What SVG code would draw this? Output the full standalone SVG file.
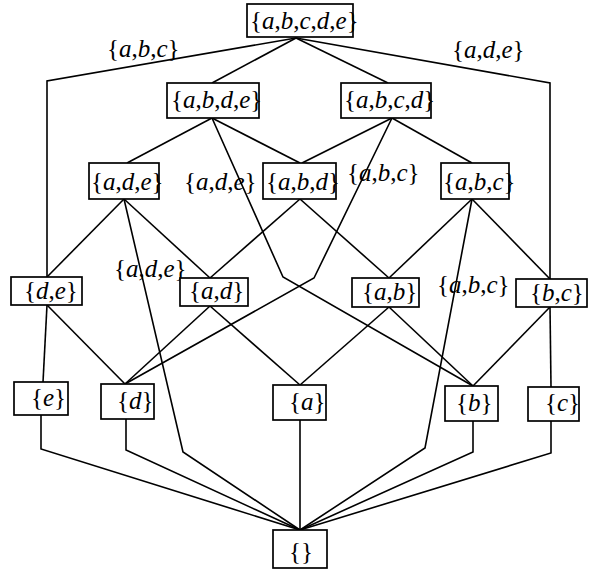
<svg xmlns="http://www.w3.org/2000/svg" width="592" height="570" viewBox="0 0 592 570">
<style>
text{font-family:"Liberation Serif","Times New Roman",serif;font-size:25px;fill:#000}
.i{font-style:italic}
rect{fill:#fff;stroke:#000;stroke-width:1.7}
polyline{fill:none;stroke:#000;stroke-width:1.6;stroke-linejoin:miter}
</style>
<rect x="0" y="0" width="592" height="570" style="stroke:none"/>
<g id="connectors">
<polyline points="296,38 47,81 47,277"/>
<polyline points="296,38 550,83 550,279"/>
<polyline points="296,38 212,83"/>
<polyline points="296,38 388,83"/>
<polyline points="212,118 127,163"/>
<polyline points="212,118 300,163"/>
<polyline points="212,118 283,277 473,386"/>
<polyline points="392,118 302,163"/>
<polyline points="392,118 472,163"/>
<polyline points="392,118 314,278 125,384"/>
<polyline points="124,199 47,277"/>
<polyline points="124,199 210,278"/>
<polyline points="124,199 183,452 300,530"/>
<polyline points="300,199 210,278"/>
<polyline points="300,199 389,278"/>
<polyline points="472,199 389,278"/>
<polyline points="472,199 550,279"/>
<polyline points="472,199 425,448 300,530"/>
<polyline points="47,305 43,382"/>
<polyline points="47,305 125,384"/>
<polyline points="210,306 125,384"/>
<polyline points="210,306 300,385"/>
<polyline points="389,307 300,385"/>
<polyline points="389,307 473,386"/>
<polyline points="550,307 473,386"/>
<polyline points="550,307 551,387"/>
<polyline points="41,415 41,449 300,530"/>
<polyline points="126,419 126,450 300,530"/>
<polyline points="300,420 300,530"/>
<polyline points="473,421 473,452 300,530"/>
<polyline points="551,421 551,453 300,530"/>
</g>
<g id="edge-labels">
<text x="107" y="57">{<tspan class="i">a</tspan>,<tspan class="i">b</tspan>,<tspan class="i">c</tspan>}</text>
<text x="452" y="58">{<tspan class="i">a</tspan>,<tspan class="i">d</tspan>,<tspan class="i">e</tspan>}</text>
<text x="184" y="190">{<tspan class="i">a</tspan>,<tspan class="i">d</tspan>,<tspan class="i">e</tspan>}</text>
<text x="347" y="181">{<tspan class="i">a</tspan>,<tspan class="i">b</tspan>,<tspan class="i">c</tspan>}</text>
<text x="114" y="277">{<tspan class="i">a</tspan>,<tspan class="i">d</tspan>,<tspan class="i">e</tspan>}</text>
<text x="437" y="293">{<tspan class="i">a</tspan>,<tspan class="i">b</tspan>,<tspan class="i">c</tspan>}</text>
</g>
<g id="n-abcde"><rect x="247" y="4" width="106" height="33"/><text x="250" y="29">{<tspan class="i">a</tspan>,<tspan class="i">b</tspan>,<tspan class="i">c</tspan>,<tspan class="i">d</tspan>,<tspan class="i">e</tspan>}</text></g>
<g id="n-abde"><rect x="167" y="83" width="92" height="35"/><text x="171" y="108">{<tspan class="i">a</tspan>,<tspan class="i">b</tspan>,<tspan class="i">d</tspan>,<tspan class="i">e</tspan>}</text></g>
<g id="n-abcd"><rect x="341" y="83" width="90" height="35"/><text x="344" y="108">{<tspan class="i">a</tspan>,<tspan class="i">b</tspan>,<tspan class="i">c</tspan>,<tspan class="i">d</tspan>}</text></g>
<g id="n-ade"><rect x="89" y="163" width="70" height="36"/><text x="91" y="190">{<tspan class="i">a</tspan>,<tspan class="i">d</tspan>,<tspan class="i">e</tspan>}</text></g>
<g id="n-abd"><rect x="263" y="163" width="73" height="36"/><text x="266" y="190">{<tspan class="i">a</tspan>,<tspan class="i">b</tspan>,<tspan class="i">d</tspan>}</text></g>
<g id="n-abc"><rect x="441" y="163" width="68" height="36"/><text x="443" y="190">{<tspan class="i">a</tspan>,<tspan class="i">b</tspan>,<tspan class="i">c</tspan>}</text></g>
<g id="n-de"><rect x="11" y="277" width="71" height="28"/><text x="24" y="299">{<tspan class="i">d</tspan>,<tspan class="i">e</tspan>}</text></g>
<g id="n-ad"><rect x="180" y="278" width="68" height="28"/><text x="189" y="299">{<tspan class="i">a</tspan>,<tspan class="i">d</tspan>}</text></g>
<g id="n-ab"><rect x="352" y="278" width="67" height="29"/><text x="362" y="300">{<tspan class="i">a</tspan>,<tspan class="i">b</tspan>}</text></g>
<g id="n-bc"><rect x="516" y="279" width="71" height="28"/><text x="530" y="301">{<tspan class="i">b</tspan>,<tspan class="i">c</tspan>}</text></g>
<g id="n-e"><rect x="14" y="382" width="54" height="33"/><text x="31" y="406">{<tspan class="i">e</tspan>}</text></g>
<g id="n-d"><rect x="101" y="384" width="53" height="35"/><text x="117" y="409">{<tspan class="i">d</tspan>}</text></g>
<g id="n-a"><rect x="273" y="385" width="53" height="35"/><text x="289" y="410">{<tspan class="i">a</tspan>}</text></g>
<g id="n-b"><rect x="445" y="386" width="53" height="35"/><text x="456" y="411">{<tspan class="i">b</tspan>}</text></g>
<g id="n-c"><rect x="528" y="387" width="51" height="34"/><text x="545" y="411">{<tspan class="i">c</tspan>}</text></g>
<g id="n-empty"><rect x="273" y="530" width="54" height="38"/><text x="289" y="560">{}</text></g>
</svg>
